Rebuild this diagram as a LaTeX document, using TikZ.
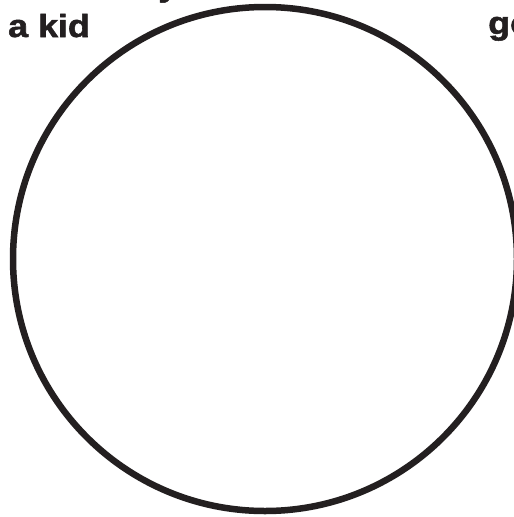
\documentclass[tikz,border=0pt]{standalone}
\usepackage{fontspec}
\setmainfont{Liberation Sans}
\newfontfamily\heavyfont[FakeBold=1.6]{Liberation Sans Bold}
\usepackage{xcolor}
\usepackage{tikz}
\usetikzlibrary{positioning}
\definecolor{ink}{RGB}{35,31,32}

\begin{document}
\begin{tikzpicture}[x=1pt,y=-1pt]
\tikzset{ring/.style={draw=ink,line width=6.5pt,circle,inner sep=0pt,minimum size=504pt}}
\tikzset{word/.style={anchor=base west,text=ink,inner sep=0pt,xscale=1.12,transform shape,
  font=\fontsize{32}{32}\selectfont\heavyfont}}
% frame
\useasboundingbox (0,0) rectangle (514,517);
\clip (0,0) rectangle (514,517);
\fill[white] (0,0) rectangle (514,517);
% big circle
\node[ring] (ring) at (265,259) {};
% words
\node[word] (kid) at (8,37) {a kid};
\node[word] (go) at (488,34) {go};
\node[word] (top) at (158,-4) {y};
\end{tikzpicture}
\end{document}
